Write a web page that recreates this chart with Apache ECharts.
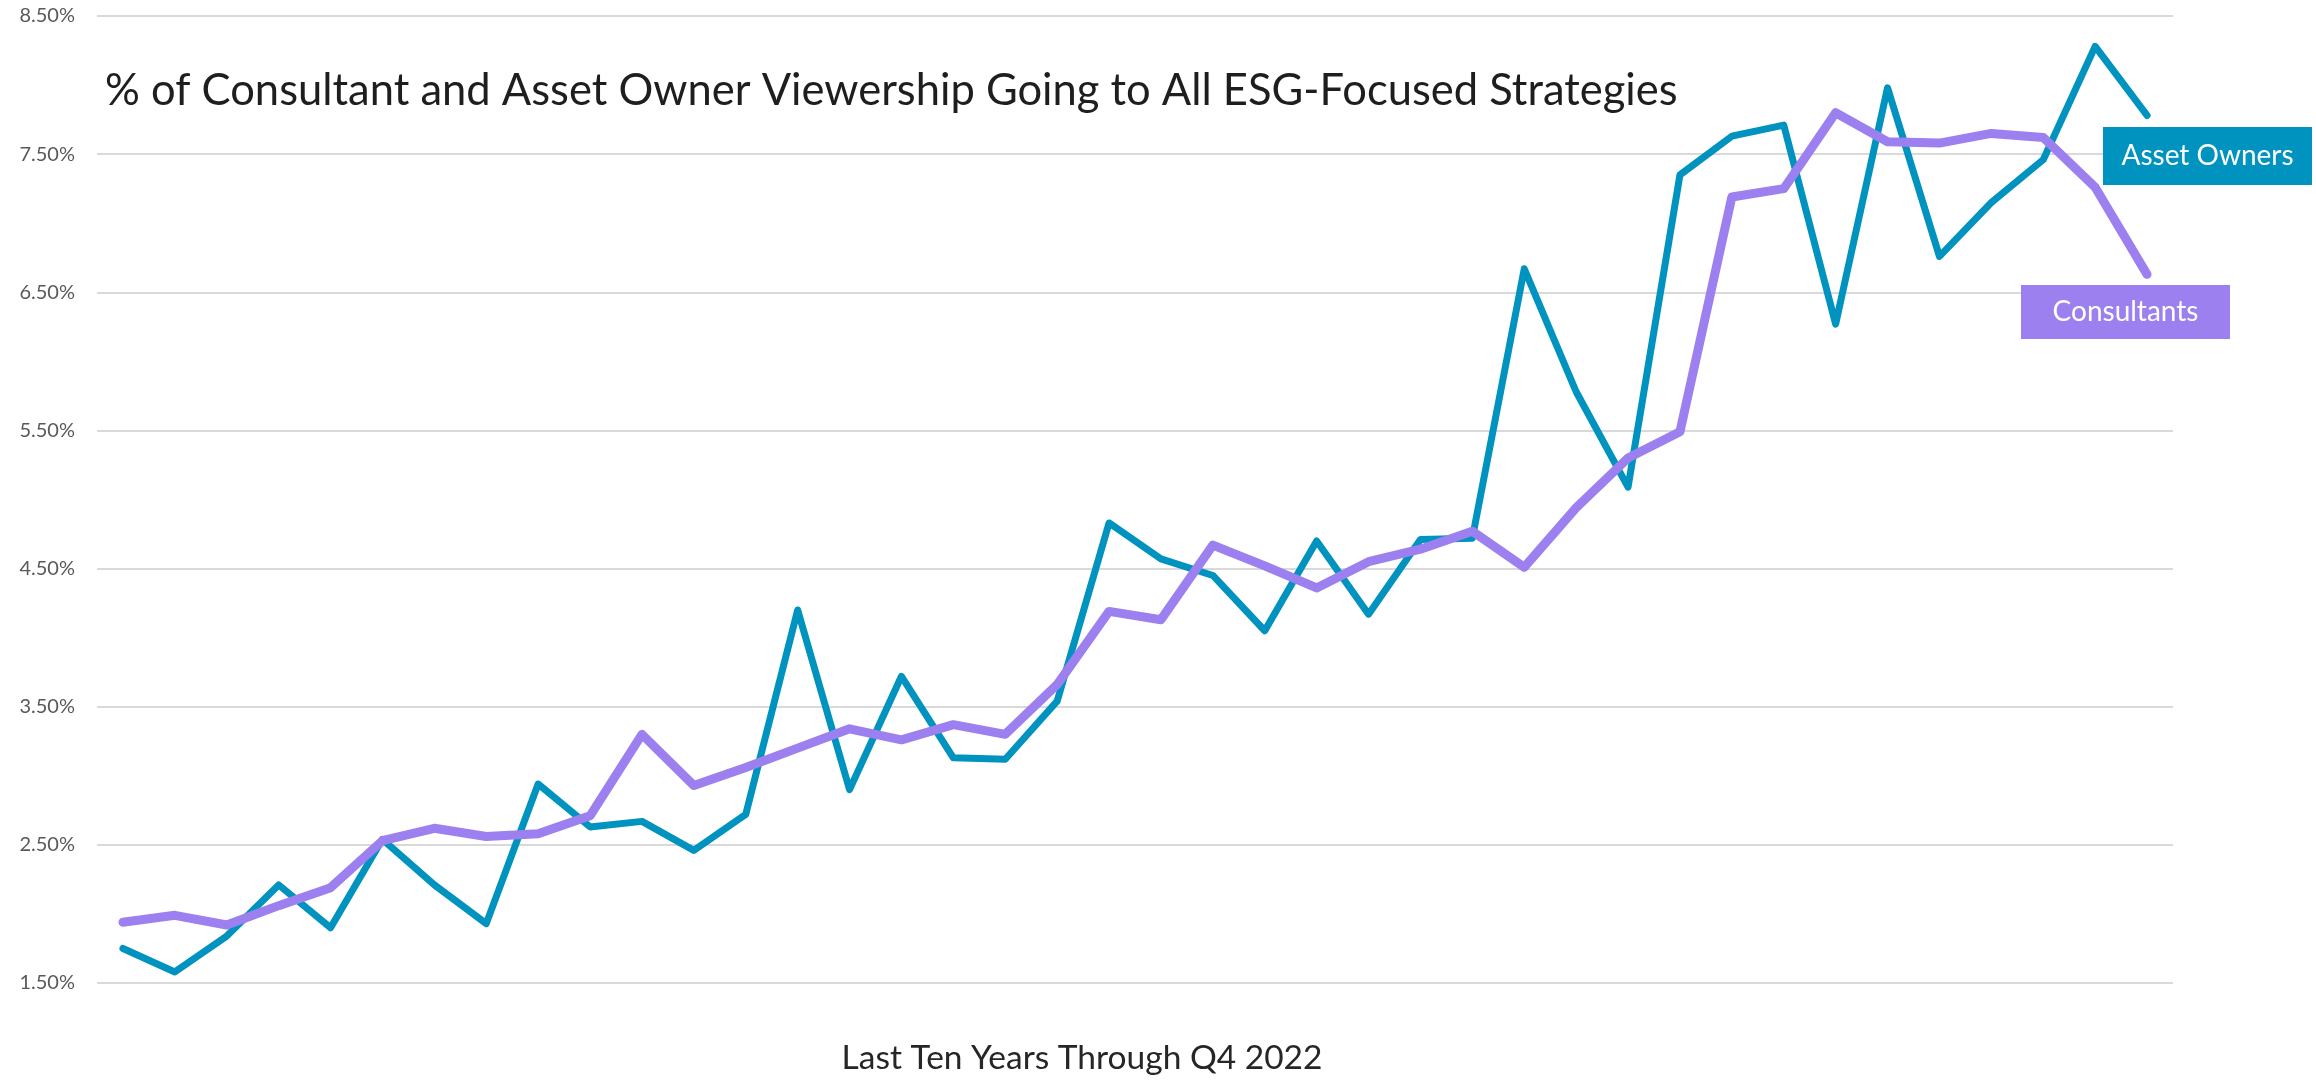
<!DOCTYPE html>
<html>
<head>
<meta charset="utf-8">
<title>ESG viewership</title>
<script src="https://cdn.jsdelivr.net/npm/echarts@6/dist/echarts.min.js"></script>
<style>
  html, body { margin: 0; padding: 0; background: #fff; }
  #main { width: 2316px; height: 1080px; }
</style>
</head>
<body>
<div id="main"></div>
<script>
// quarters, last ten years through Q4 2022
var quarters = [
  'Q1 2013','Q2 2013','Q3 2013','Q4 2013','Q1 2014','Q2 2014','Q3 2014','Q4 2014',
  'Q1 2015','Q2 2015','Q3 2015','Q4 2015','Q1 2016','Q2 2016','Q3 2016','Q4 2016',
  'Q1 2017','Q2 2017','Q3 2017','Q4 2017','Q1 2018','Q2 2018','Q3 2018','Q4 2018',
  'Q1 2019','Q2 2019','Q3 2019','Q4 2019','Q1 2020','Q2 2020','Q3 2020','Q4 2020',
  'Q1 2021','Q2 2021','Q3 2021','Q4 2021','Q1 2022','Q2 2022','Q3 2022','Q4 2022'
];

// % of viewership
var assetOwners = [
  1.75, 1.58, 1.84, 2.21, 1.90, 2.54, 2.21, 1.93, 2.94, 2.63,
  2.67, 2.46, 2.72, 4.20, 2.90, 3.72, 3.13, 3.12, 3.54, 4.83,
  4.57, 4.45, 4.05, 4.70, 4.17, 4.71, 4.72, 6.67, 5.78, 5.09,
  7.35, 7.63, 7.71, 6.27, 7.98, 6.76, 7.15, 7.46, 8.28, 7.78
];
var consultants = [
  1.94, 1.99, 1.92, 2.06, 2.19, 2.53, 2.62, 2.56, 2.58, 2.71,
  3.30, 2.93, 3.06, 3.20, 3.34, 3.26, 3.37, 3.30, 3.66, 4.19,
  4.13, 4.67, 4.52, 4.36, 4.55, 4.64, 4.77, 4.51, 4.94, 5.30,
  5.49, 7.19, 7.25, 7.80, 7.59, 7.58, 7.65, 7.62, 7.26, 6.63
];

var teal = '#0193bf';
var purple = '#9c80f0';
var font = 'Lato';

var chart = echarts.init(document.getElementById('main'));

var option = {
  animation: false,
  backgroundColor: '#fff',
  title: {
    text: '% of Consultant and Asset Owner Viewership Going to All ESG-Focused Strategies',
    left: 100,
    top: 64,
    textStyle: { fontFamily: font, fontSize: 43.5, fontWeight: 'normal', color: '#1e1e1e' }
  },
  grid: { left: 97, right: 143, top: 16, bottom: 90 },
  xAxis: {
    type: 'category',
    data: quarters,
    boundaryGap: true,
    axisLine: { show: false },
    axisTick: { show: false },
    axisLabel: { show: false },
    splitLine: { show: false },
    name: 'Last Ten Years Through Q4 2022',
    nameLocation: 'middle',
    nameGap: 58,
    nameTextStyle: { fontFamily: font, fontSize: 33.5, color: '#262626', padding: [0, 106, 0, 0] }
  },
  yAxis: {
    type: 'value',
    min: 1.5,
    max: 8.5,
    interval: 0.5,
    axisLine: { show: false },
    axisTick: { show: false },
    axisLabel: {
      margin: 22,
      fontFamily: font,
      fontSize: 20,
      color: '#595959',
      formatter: function (v) {
        return Math.round(v * 2) % 2 === 1 ? v.toFixed(2) + '%' : '';
      }
    },
    splitLine: {
      lineStyle: { color: ['#d9d9d9', 'rgba(0,0,0,0)'], width: 2 }
    }
  },
  series: [
    {
      name: 'Asset Owners',
      type: 'line',
      data: assetOwners,
      symbol: 'none',
      z: 2,
      lineStyle: { color: teal, width: 7, cap: 'round', join: 'round' }
    },
    {
      name: 'Consultants',
      type: 'line',
      data: consultants,
      symbol: 'none',
      z: 3,
      lineStyle: { color: purple, width: 9, cap: 'round', join: 'round' }
    }
  ],
  graphic: [
    {
      type: 'group', left: 2103, top: 127, z: 100,
      children: [
        { type: 'rect', z: 100, shape: { x: 0, y: 0, width: 209, height: 58 }, style: { fill: teal } },
        { type: 'text', z: 101, x: 104.5, y: 29, style: { text: 'Asset Owners', fill: '#fff', font: '28px Lato', align: 'center', verticalAlign: 'middle' } }
      ]
    },
    {
      type: 'group', left: 2021, top: 285, z: 100,
      children: [
        { type: 'rect', z: 100, shape: { x: 0, y: 0, width: 209, height: 54 }, style: { fill: purple } },
        { type: 'text', z: 101, x: 104.5, y: 27, style: { text: 'Consultants', fill: '#fff', font: '28px Lato', align: 'center', verticalAlign: 'middle' } }
      ]
    }
  ]
};

chart.setOption(option);
</script>
</body>
</html>
